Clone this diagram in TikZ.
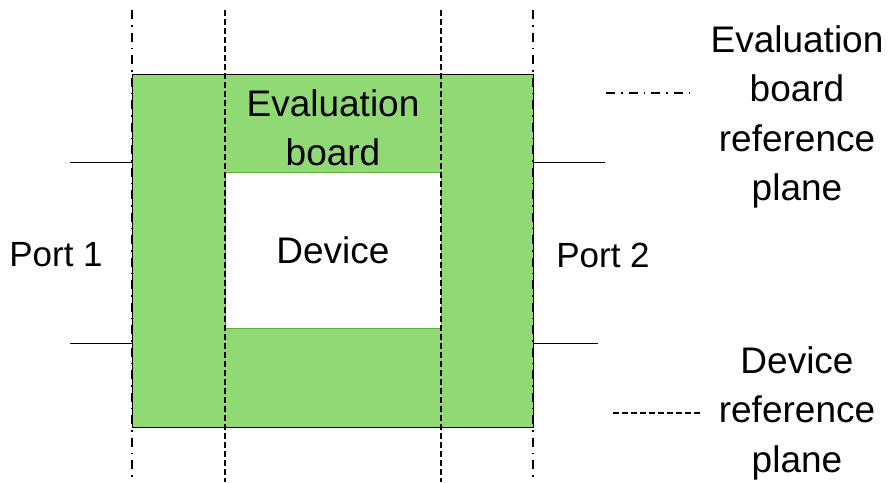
\documentclass[tikz,border=0pt]{standalone}
\usepackage{fontspec}
\setmainfont{Liberation Sans}
\definecolor{boardgreen}{RGB}{145,217,117}
\definecolor{edgegreen}{RGB}{92,176,52}
\tikzset{
  txt/.style={inner sep=0pt, align=center, font=\fontsize{37}{49.5}\selectfont},
  porttxt/.style={inner sep=0pt, align=center, font=\fontsize{35}{49.5}\selectfont},
  evalplane/.style={line width=1.5pt, dash pattern=on 9pt off 6pt on 1.5pt off 6pt},
  devplane/.style={line width=1.5pt, dash pattern=on 6pt off 3pt},
  portline/.style={line width=1pt},
}
\begin{document}
\begin{tikzpicture}[x=1pt,y=-1pt]
\useasboundingbox (0,0) rectangle (893,482);
% board
\node[draw=black, line width=1pt, fill=boardgreen, minimum width=401pt, minimum height=353pt, inner sep=0pt, anchor=north west] (board) at (132,74) {};
\node[draw=edgegreen, line width=1pt, fill=white, minimum width=216pt, minimum height=156pt, inner sep=0pt, anchor=north west] (dev) at (225,172) {};
\node[txt] (evaltxt) at (333,128) {Evaluation\\board};
\node[txt] (devtxt) at (333,250) {Device};
% reference planes
\coordinate (e1t) at (132,10); \coordinate (e1b) at (132,482);
\coordinate (e2t) at (533,10); \coordinate (e2b) at (533,482);
\coordinate (d1t) at (225,10); \coordinate (d1b) at (225,482);
\coordinate (d2t) at (441,10); \coordinate (d2b) at (441,482);
\draw[evalplane] (e1t) -- (e1b);
\draw[evalplane] (e2t) -- (e2b);
\draw[devplane] (d1t) -- (d1b);
\draw[devplane] (d2t) -- (d2b);
% ports
\coordinate (p1a) at (70,162); \coordinate (p1b) at (70,343);
\coordinate (p2a) at (605,162); \coordinate (p2b) at (598,343);
\draw[portline] (p1a) -- (p1a -| board.west);
\draw[portline] (p1b) -- (p1b -| board.west);
\draw[portline] (p2a) -- (p2a -| board.east);
\draw[portline] (p2b) -- (p2b -| board.east);
\node[porttxt] (port1) at (56,255) {Port 1};
\node[porttxt] (port2) at (603,255) {Port 2};
% legend
\coordinate (l1a) at (606,93); \coordinate (l1b) at (692,93);
\draw[evalplane] (l1a) -- (l1b);
\node[txt] (l1txt) at (797,117) {Evaluation\\board\\reference\\plane};
\coordinate (l2a) at (613,413); \coordinate (l2b) at (702,413);
\draw[devplane] (l2a) -- (l2b);
\node[txt] (l2txt) at (797,413) {Device\\reference\\plane};
\end{tikzpicture}
\end{document}
